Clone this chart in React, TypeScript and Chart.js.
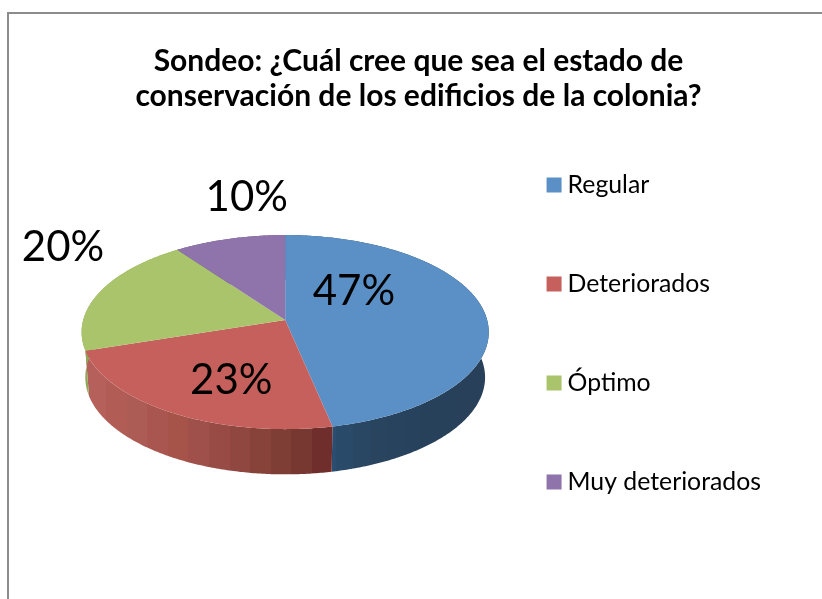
import React, { useEffect, useRef } from "react";
import { Chart, registerables } from "chart.js";

Chart.register(...registerables);

const TITLE_LINES = [
  "Sondeo: ¿Cuál cree que sea el estado de",
  "conservación de los edificios de la colonia?",
];
const CATEGORIES = ["Regular", "Deteriorados", "Óptimo", "Muy deteriorados"];
const SHARES = [46.7, 23.3, 20, 10];
const TOP_COLORS = ["#5b90c6", "#c6605c", "#a9c46b", "#8f74ab"];

const WALL_BANDS = [
  ["#2b4d70", "#2b4d70", "#2b4d70", "#2a4a6a", "#294663", "#28445f", "#28435e", "#27425d", "#28415b", "#28415a", "#284059", "#284059"],
  ["#b5605a", "#b15c55", "#ad5b55", "#aa5650", "#a65349", "#9f504a", "#974b44", "#8f4740", "#874239", "#7e3d35", "#763831", "#6f2d2b"],
  ["#8fa857"],
  ["#6f5a87"],
];

const FONT = "Lato, Carlito, Calibri, 'Noto Sans', sans-serif";
const PIE_SHIFT_X = 12.8;
const PIE_SHIFT_Y = -56.5;

const piePerspective = {
  id: "piePerspective",
  beforeDatasetDraw(chart: any) {
    const ctx = chart.ctx as CanvasRenderingContext2D;
    const arcs = chart.getDatasetMeta(0).data as any[];
    const R = arcs[0].outerRadius;
    const cx = arcs[0].x + PIE_SHIFT_X;
    const apexY = arcs[0].y + PIE_SHIFT_Y - 0.059 * R;
    const b = 0.473 * R;
    const p = 0.1237;
    const depth = 0.224 * R;
    const rim = (angle: number) => {
      const th = angle + Math.PI / 2;
      const u = Math.sin(th);
      const v = -Math.cos(th);
      const d = 1 - p * v;
      return { x: (R * u) / d, y: (b * v) / d };
    };
    const samples = (a0: number, a1: number) => {
      const n = Math.max(2, Math.ceil((a1 - a0) / 0.01));
      return Array.from({ length: n + 1 }, (_, i) => rim(a0 + ((a1 - a0) * i) / n));
    };
    // side walls first, top faces painted over them
    arcs.forEach((arc, i) => {
      const pts = samples(arc.startAngle, arc.endAngle);
      const xs = pts.map((q) => q.x);
      const lo = cx + Math.min(...xs);
      const hi = cx + Math.max(...xs);
      const g = ctx.createLinearGradient(lo, 0, hi, 0);
      const bands = WALL_BANDS[i];
      bands.forEach((c, k) => {
        g.addColorStop(k / bands.length, c);
        g.addColorStop((k + 1) / bands.length, c);
      });
      ctx.beginPath();
      pts.forEach((q, k) => {
        const x = cx + q.x;
        const y = apexY + q.y;
        k ? ctx.lineTo(x, y) : ctx.moveTo(x, y);
      });
      [...pts].reverse().forEach((q) => ctx.lineTo(cx + q.x * 0.982, apexY + q.y + depth));
      ctx.closePath();
      ctx.fillStyle = g;
      ctx.fill();
    });
    arcs.forEach((arc, i) => {
      ctx.beginPath();
      ctx.moveTo(cx, apexY);
      samples(arc.startAngle, arc.endAngle).forEach((q) => ctx.lineTo(cx + q.x, apexY + q.y));
      ctx.closePath();
      ctx.fillStyle = TOP_COLORS[i];
      ctx.fill();
    });
    return false;
  },
  afterDatasetsDraw(chart: any) {
    const ctx = chart.ctx as CanvasRenderingContext2D;
    const arc = chart.getDatasetMeta(0).data[0];
    const R = arc.outerRadius;
    const spots = [
      [0.34, -0.2],
      [-0.267, 0.24],
      [-1.1, -0.42],
      [-0.19, -0.665],
    ];
    ctx.save();
    ctx.fillStyle = "#000";
    ctx.font = `42px ${FONT}`;
    ctx.textAlign = "center";
    ctx.textBaseline = "middle";
    SHARES.forEach((v, i) => {
      ctx.fillText(
        `${Math.round(v)}%`,
        arc.x + PIE_SHIFT_X + spots[i][0] * R,
        arc.y + PIE_SHIFT_Y + spots[i][1] * R
      );
    });
    ctx.restore();
  },
};

export default function App() {
  const ref = useRef<HTMLCanvasElement>(null);
  useEffect(() => {
    const chart = new Chart(ref.current!, {
      type: "pie",
      data: {
        labels: CATEGORIES,
        datasets: [{ data: SHARES, backgroundColor: TOP_COLORS, borderWidth: 0, radius: 202 }],
      },
      options: {
        animation: false,
        responsive: false,
        events: [],
        layout: { padding: { left: 57, right: 58, top: 0, bottom: 61 } },
        plugins: {
          tooltip: { enabled: false },
          title: {
            display: true,
            text: TITLE_LINES,
            color: "#000",
            font: { family: FONT, size: 30, weight: "bold", lineHeight: 1.167 },
            padding: { top: 30, bottom: 10 },
          },
          legend: {
            position: "right",
            labels: {
              color: "#000",
              font: { family: FONT, size: 24.8 },
              usePointStyle: true,
              pointStyle: "rect",
              boxWidth: 2.2,
              boxHeight: 15,
              padding: 74.2,
            },
          },
        },
      },
      plugins: [piePerspective],
    } as any);
    return () => chart.destroy();
  }, []);
  return (
    <div style={{ position: "fixed", inset: 0, overflow: "hidden", background: "#fff" }}>
      <div
        style={{
          position: "absolute",
          left: 7,
          top: 12,
          width: 820,
          height: 700,
          border: "2px solid #8c8c8c",
        }}
      >
        <canvas ref={ref} width={820} height={700} style={{ display: "block" }} />
      </div>
    </div>
  );
}
